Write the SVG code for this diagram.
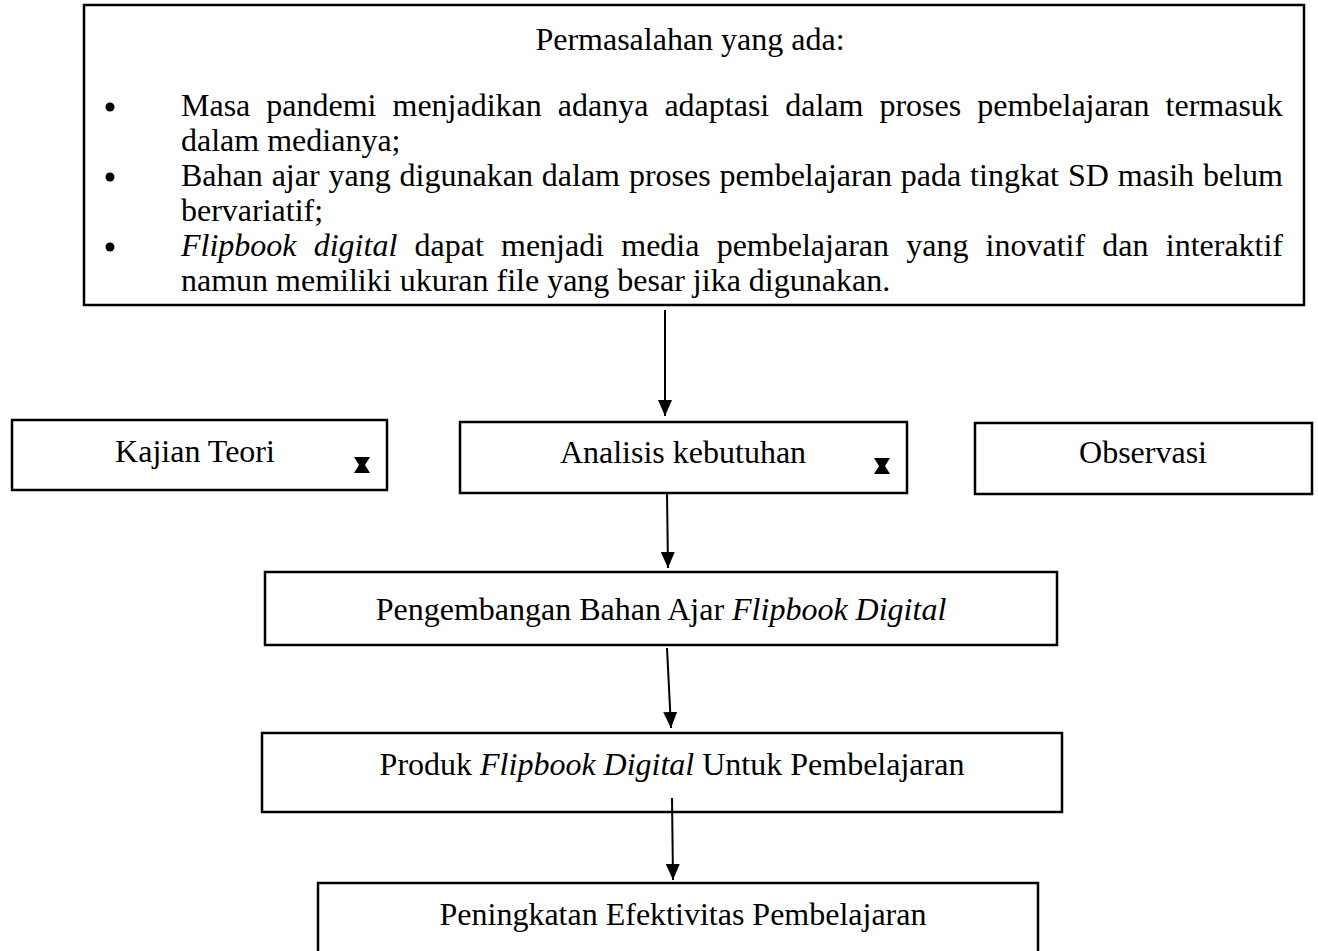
<svg xmlns="http://www.w3.org/2000/svg" width="1318" height="951" viewBox="0 0 1318 951">
<defs>
<style>
.box{fill:#fff;stroke:#000;stroke-width:2.5}
.t{font-family:"Liberation Serif","Times New Roman",serif;font-size:32px;fill:#000}
.c{text-anchor:middle}
.i{font-style:italic}
.con{stroke:#000;stroke-width:2;fill:none}
.hg{fill:#000}
</style>
<marker id="ah" markerUnits="userSpaceOnUse" markerWidth="16" markerHeight="14" refX="16" refY="7" orient="auto" viewBox="0 0 16 14">
<path d="M0,0 L16,7 L0,14 Z" fill="#000"/>
</marker>
</defs>
<rect width="1318" height="951" fill="#fff"/>

<g id="problems">
<rect class="box" x="84" y="5" width="1220" height="300"/>
<text class="t c" x="690" y="50">Permasalahan yang ada:</text>
<circle cx="110" cy="107" r="4.5" fill="#000"/>
<circle cx="110" cy="177" r="4.5" fill="#000"/>
<circle cx="110" cy="247" r="4.5" fill="#000"/>
<text class="t" x="181" y="116" word-spacing="8">Masa pandemi menjadikan adanya adaptasi dalam proses pembelajaran termasuk</text>
<text class="t" x="181" y="151">dalam medianya;</text>
<text class="t" x="181" y="186" word-spacing="0.9">Bahan ajar yang digunakan dalam proses pembelajaran pada tingkat SD masih belum</text>
<text class="t" x="181" y="221">bervariatif;</text>
<text class="t" x="181" y="256" word-spacing="9.2"><tspan class="i">Flipbook digital</tspan> dapat menjadi media pembelajaran yang inovatif dan interaktif</text>
<text class="t" x="181" y="291">namun memiliki ukuran file yang besar jika digunakan.</text>
</g>

<g id="kajian">
<rect class="box" x="12" y="420" width="375" height="70"/>
<text class="t c" x="195" y="462">Kajian Teori</text>
<path class="hg" d="M354,457 h16 l-5,8 l5,8 h-16 l5,-8 z"/>
</g>

<g id="analisis">
<rect class="box" x="460" y="422" width="447" height="71"/>
<text class="t c" x="683" y="463">Analisis kebutuhan</text>
<path class="hg" d="M874,458 h16 l-5,8 l5,8 h-16 l5,-8 z"/>
</g>

<g id="observasi">
<rect class="box" x="975" y="423" width="337" height="71"/>
<text class="t c" x="1143" y="463">Observasi</text>
</g>

<g id="pengembangan">
<rect class="box" x="265" y="572" width="792" height="73"/>
<text class="t c" x="661" y="620">Pengembangan Bahan Ajar <tspan class="i">Flipbook Digital</tspan></text>
</g>

<g id="produk">
<rect class="box" x="262" y="733" width="800" height="79"/>
<text class="t c" x="672" y="775">Produk <tspan class="i">Flipbook Digital</tspan> Untuk Pembelajaran</text>
</g>

<g id="peningkatan">
<rect class="box" x="318" y="883" width="720" height="80"/>
<text class="t c" x="683" y="925">Peningkatan Efektivitas Pembelajaran</text>
</g>

<g id="connectors">
<line class="con" x1="665" y1="310" x2="665" y2="416" marker-end="url(#ah)"/>
<line class="con" x1="667" y1="492" x2="668" y2="568" marker-end="url(#ah)"/>
<line class="con" x1="667" y1="648" x2="671" y2="728" marker-end="url(#ah)"/>
<line class="con" x1="672" y1="798" x2="673" y2="880" marker-end="url(#ah)"/>
</g>
</svg>
